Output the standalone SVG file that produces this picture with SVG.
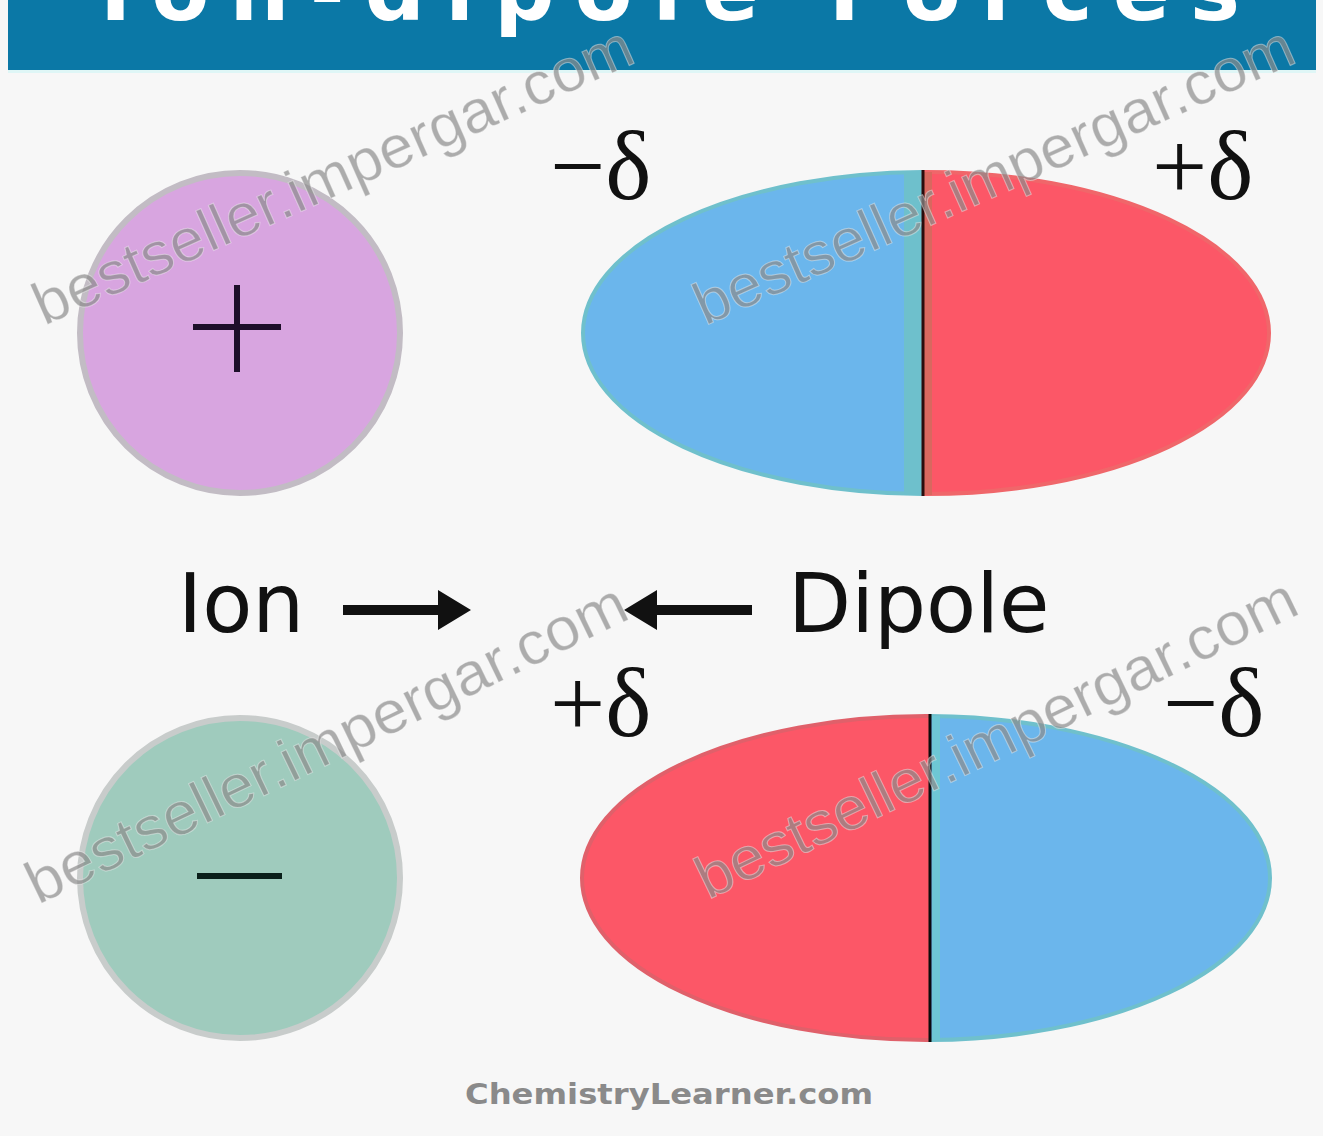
<svg xmlns="http://www.w3.org/2000/svg" width="1323" height="1136" viewBox="0 0 1323 1136">
<style>
.wm{font-family:"Liberation Sans",Arial,sans-serif;font-size:60px;fill:#8c8c8c;fill-opacity:0.7;stroke:#ffffff;stroke-opacity:0.4;stroke-width:1}
.delta{font-family:"Liberation Serif","Times New Roman",serif;font-size:98px;fill:#111}
.lbl{font-family:"DejaVu Sans",Verdana,sans-serif;font-size:82px;fill:#111}
</style>
<defs>
<clipPath id="topL"><rect x="0" y="0" width="922" height="600"/></clipPath>
<clipPath id="topR"><rect x="922" y="0" width="500" height="600"/></clipPath>
<clipPath id="botL"><rect x="0" y="600" width="930" height="500"/></clipPath>
<clipPath id="botR"><rect x="930" y="600" width="500" height="500"/></clipPath>
</defs>
<rect x="0" y="0" width="1323" height="1136" fill="#f7f7f7"/>
<g id="banner">
<rect x="8" y="0" width="1308" height="70" fill="#0b78a6"/>
<rect x="8" y="70" width="1308" height="3" fill="#dff6f6"/>
<text x="100" y="20" font-family="DejaVu Sans,Verdana,sans-serif" font-weight="bold" font-size="84" fill="#ffffff" textLength="1140" lengthAdjust="spacing">Ion-dipole Forces</text>
</g>
<g id="ion-positive">
<circle cx="240" cy="333" r="160" fill="#d8a5e0" stroke="#c2bcc4" stroke-width="6"/>
<path d="M237 285V372M193 327H281" stroke="#1e0f2a" stroke-width="6" fill="none"/>
</g>
<g id="dipole-top">
<ellipse cx="926" cy="333" rx="343" ry="161" fill="#6bb6ec" clip-path="url(#topL)" stroke="#6fc0cc" stroke-width="4"/>
<ellipse cx="926" cy="333" rx="343" ry="161" fill="#fc5767" clip-path="url(#topR)" stroke="#f0666a" stroke-width="4"/>
<rect x="904" y="172" width="18" height="323" fill="#6ec0cc"/>
<rect x="924" y="172" width="8" height="323" fill="#d8685f"/>
<line x1="923" y1="170" x2="923" y2="496" stroke="#2a0c0c" stroke-width="3"/>
<text class="delta" x="550" y="199">−δ</text>
<text class="delta" x="1152" y="199">+δ</text>
</g>
<g id="ion-negative">
<circle cx="240" cy="878" r="160" fill="#9fcbbd" stroke="#c8cccb" stroke-width="6"/>
<line x1="197" y1="876" x2="282" y2="876" stroke="#0a1f1a" stroke-width="6"/>
</g>
<g id="dipole-bottom">
<ellipse cx="926" cy="878" rx="344" ry="162" fill="#fc5767" clip-path="url(#botL)" stroke="#e0606a" stroke-width="4"/>
<ellipse cx="926" cy="878" rx="344" ry="162" fill="#6bb6ec" clip-path="url(#botR)" stroke="#6fc0cc" stroke-width="4"/>
<rect x="932" y="716" width="8" height="324" fill="#6ec7d4"/>
<line x1="930" y1="714" x2="930" y2="1042" stroke="#0c0c0c" stroke-width="3"/>
<text class="delta" x="550" y="736">+δ</text>
<text class="delta" x="1163" y="736">−δ</text>
</g>
<g id="label-ion"><text class="lbl" x="178" y="632">Ion</text></g>
<g id="label-dipole"><text class="lbl" x="788" y="632">Dipole</text></g>
<g id="connectors">
<path d="M343 605H438V590L471 610L438 630V615H343Z" fill="#111"/>
<path d="M752 605H657V590L624 610L657 630V615H752Z" fill="#111"/>
</g>
<g id="watermarks">
<text class="wm" transform="translate(44,326) rotate(-24)" textLength="650" lengthAdjust="spacingAndGlyphs">bestseller.impergar.com</text>
<text class="wm" transform="translate(705,326) rotate(-24)" textLength="650" lengthAdjust="spacingAndGlyphs">bestseller.impergar.com</text>
<text class="wm" transform="translate(38,905) rotate(-25.8)" textLength="660" lengthAdjust="spacingAndGlyphs">bestseller.impergar.com</text>
<text class="wm" transform="translate(708,900) rotate(-25.8)" textLength="660" lengthAdjust="spacingAndGlyphs">bestseller.impergar.com</text>
</g>
<g id="footer">
<text x="669" y="1104" text-anchor="middle" font-family="DejaVu Sans,Verdana,sans-serif" font-weight="bold" font-size="28" fill="#8a8a8a" textLength="408" lengthAdjust="spacingAndGlyphs">ChemistryLearner.com</text>
</g>
</svg>
